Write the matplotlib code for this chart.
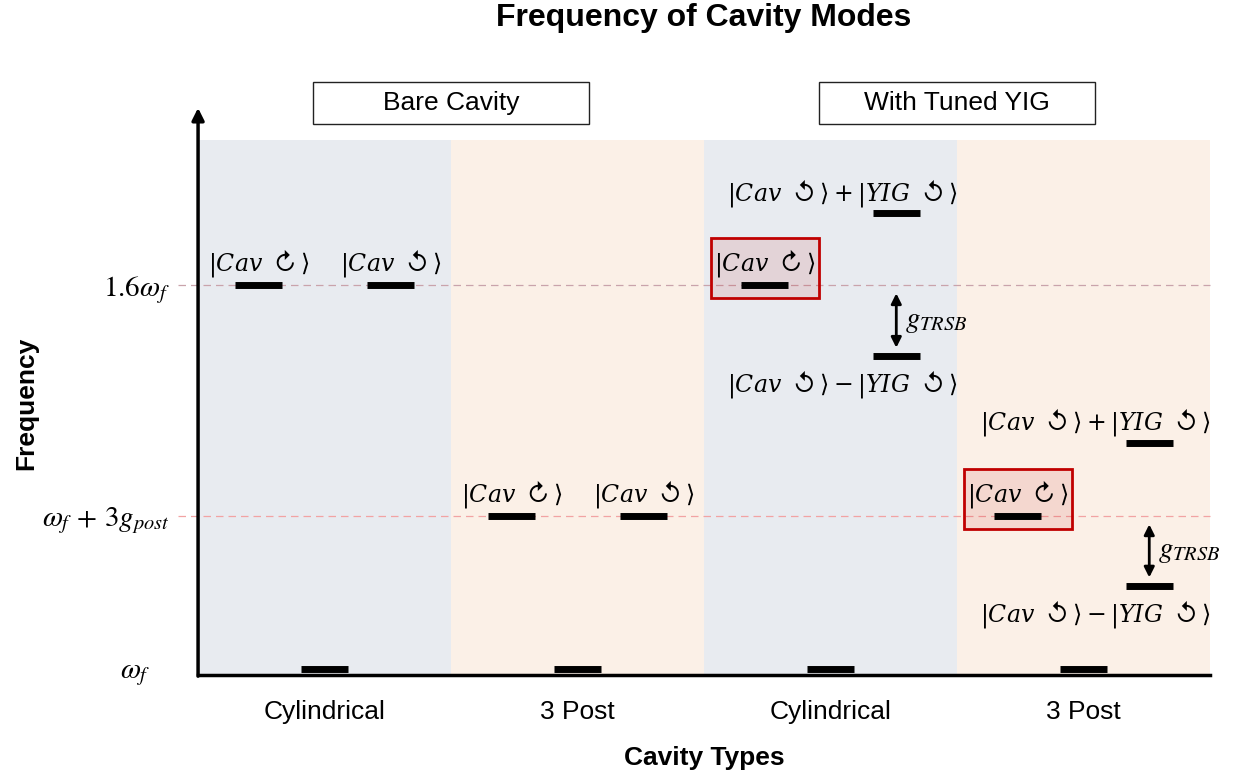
import numpy as np
import matplotlib
matplotlib.use('Agg')
import matplotlib.pyplot as plt
from matplotlib.patches import Rectangle
from matplotlib.transforms import ScaledTranslation

plt.rcParams['font.family'] = ['Liberation Sans', 'DejaVu Sans']
plt.rcParams['mathtext.fontset'] = 'stix'
# state labels use a custom math set: serif letters, Inter (\mathsf) for the circle arrows
plt.rcParams['mathtext.rm'] = 'DejaVu Serif'
plt.rcParams['mathtext.it'] = 'DejaVu Serif:italic'
plt.rcParams['mathtext.bf'] = 'DejaVu Serif:bold'
plt.rcParams['mathtext.sf'] = 'Inter'
plt.rcParams['mathtext.fallback'] = 'stix'

# data
categories = ['Cylindrical', '3 Post', 'Cylindrical', '3 Post']
groups = ['Bare Cavity', 'With Tuned YIG']
base_freq = [1.0, 1.0, 1.0, 1.0]          # omega_f
cav_freq = [1.6, 1.239, 1.6, 1.239]       # |Cav cw>, |Cav ccw>
yig_upper = [None, None, 1.712, 1.353]    # |Cav> + |YIG>
yig_lower = [None, None, 1.489, 1.130]    # |Cav> - |YIG>
ytick_vals = [1.0, 1.239, 1.6]
ytick_labels = [r'$\omega_f$', r'$\omega_f\,+\,3g_{post}$', r'$1.6\omega_f$']

cw = r'\mathsf{\circlearrowright}'
ccw = r'\mathsf{\circlearrowleft}'
cw_label = r'$|Cav\ ' + cw + r'\rangle$'
ccw_label = r'$|Cav\ ' + ccw + r'\rangle$'
plus_label = r'$|Cav\ ' + ccw + r'\rangle + |YIG\ ' + ccw + r'\rangle$'
minus_label = r'$|Cav\ ' + ccw + r'\rangle - |YIG\ ' + ccw + r'\rangle$'
g_label = r'$g_{TRSB}$'

fig = plt.figure(figsize=(12.41, 7.73), dpi=100)
ax = fig.add_axes([0.1596, 0.1274, 0.8154, 0.6915])

x = np.arange(len(categories))
bg = ['#e8ebf0', '#fbf0e7']
for i in x:
    ax.axvspan(i - 0.5, i + 0.5, color=bg[i % 2], zorder=0, lw=0)

# reference dashed lines
ax.axhline(ytick_vals[2], xmin=-0.02, xmax=1, ls=(0, (6, 4)), lw=0.9,
           color='#c9a3ab', clip_on=False, zorder=1)
ax.axhline(ytick_vals[1], xmin=-0.02, xmax=1, ls=(0, (6, 4)), lw=0.9,
           color='#f2a3a3', clip_on=False, zorder=1)

hw = 0.093
off = 0.26
fs = 19
sfs = 17
st = dict(fontsize=sfs, math_fontfamily='custom', ha='center', va='center', zorder=4)

# fundamental mode
ax.hlines(base_freq, x - hw, x + hw, color='black', lw=5, zorder=3)

for i in x:
    lvl = cav_freq[i]
    # clockwise cavity mode
    ax.hlines(lvl, i - off - hw, i - off + hw, color='black', lw=5, zorder=3)
    ax.annotate(cw_label, (i - off, lvl), xytext=(0, 16), textcoords='offset points', **st)
    if yig_upper[i] is None:
        ax.hlines(lvl, i + off - hw, i + off + hw, color='black', lw=5, zorder=3)
        ax.annotate(ccw_label, (i + off, lvl), xytext=(0, 16), textcoords='offset points', **st)
    else:
        # highlighted unchanged mode
        ax.add_patch(Rectangle((i - off - 0.213, lvl - 0.02), 0.426, 0.093,
                               fc=(0.75, 0, 0, 0.1), ec='#c00000', lw=2, zorder=2))
        up, lo = yig_upper[i], yig_lower[i]
        ax.hlines([up, lo], i + off - hw, i + off + hw, color='black', lw=5, zorder=3)
        ax.annotate(plus_label, (i + 0.046, up), xytext=(0, 15), textcoords='offset points', **st)
        ax.annotate(minus_label, (i + 0.046, lo), xytext=(0, -20), textcoords='offset points', **st)
        ax.annotate('', xy=(i + off, lvl - 0.013), xytext=(i + off, lo + 0.013),
                    arrowprops=dict(arrowstyle='<|-|>', lw=2, color='black',
                                    mutation_scale=15, shrinkA=0, shrinkB=0), zorder=4)
        ax.text(i + off + 0.035, (lvl + lo) / 2, g_label, ha='left', va='center',
                fontsize=21, zorder=4)

# group headers
for k, name in enumerate(groups):
    c = 2 * k + 0.5
    ax.add_patch(Rectangle((c - 0.547, 1.851), 1.094, 0.066, fc='white', ec='#222222',
                           lw=1, clip_on=False))
    ax.text(c, 1.884, name, ha='center', va='center', fontsize=fs)

ax.set_xlim(-0.5, 3.5)
ax.set_ylim(0.9914, 1.8266)

ax.set_xticks(x, categories)
ax.set_yticks(ytick_vals, ytick_labels)
ax.tick_params(axis='x', length=0, pad=18, labelsize=fs)
ax.tick_params(axis='y', length=0, pad=20, labelsize=21)
lab = ax.get_yticklabels()[0]
lab.set_transform(lab.get_transform() + ScaledTranslation(-0.2, 0, fig.dpi_scale_trans))

for s in ['top', 'right', 'left']:
    ax.spines[s].set_visible(False)
ax.spines['bottom'].set_linewidth(2.5)
ax.annotate('', xy=(0, 1.06), xytext=(0, -0.003), xycoords='axes fraction',
            arrowprops=dict(arrowstyle='-|>', lw=2.5, color='black',
                            mutation_scale=18, shrinkA=0, shrinkB=0))

ax.set_xlabel('Cavity Types', fontsize=fs, fontweight='bold', labelpad=16)
ax.set_ylabel('Frequency', fontsize=fs, fontweight='bold')
ax.yaxis.set_label_coords(-0.158, 0.507)
fig.suptitle('Frequency of Cavity Modes', x=0.567, y=0.977, va='center',
             fontsize=23, fontweight='bold')

fig.savefig('out.png', dpi=100)
